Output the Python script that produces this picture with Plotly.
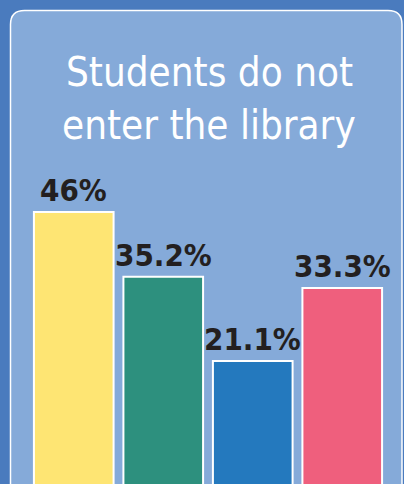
import plotly.graph_objects as go

categories = ["A", "B", "C", "D"]
values = [46, 35.2, 21.1, 33.3]
labels = ["46%", "35.2%", "21.1%", "33.3%"]
colors = ["#fee573", "#2d907e", "#2479be", "#ef5f7d"]
title_lines = ["Students do not", "enter the library"]

W, H = 404, 484
L, R, T, B = 29, 17, 100, 0
pw, ph = W - L - R, H - T - B

def px(x):
    return (x - L) / pw

def py(y):
    return (H - B - y) / ph

FONT = "DejaVu Sans Condensed, Liberation Sans Narrow, sans-serif"

fig = go.Figure()
fig.add_trace(go.Bar(
    x=categories, y=values,
    marker=dict(color=colors, line=dict(color="white", width=2)),
    hoverinfo="skip",
))

for c, v, t in zip(categories, values, labels):
    fig.add_annotation(x=c, y=v, text=t, showarrow=False, yanchor="bottom",
                       yshift=2, font=dict(family=FONT, size=31, color="#231f20", weight="bold"))

# panel
x0, x1, y0, y1, r = 10.5, 402, 10.5, 540, 14
path = (f"M {px(x0)},{py(y1)} L {px(x0)},{py(y0 + r)} Q {px(x0)},{py(y0)} {px(x0 + r)},{py(y0)} "
        f"L {px(x1 - r)},{py(y0)} Q {px(x1)},{py(y0)} {px(x1)},{py(y0 + r)} L {px(x1)},{py(y1)} Z")
fig.add_shape(type="path", path=path, xref="paper", yref="paper", layer="below",
              fillcolor="#85aad9", line=dict(color="white", width=1.5))

for i, (line, cy) in enumerate(zip(title_lines, [71.5, 124.5])):
    fig.add_annotation(x=px(209), y=py(cy), xref="paper", yref="paper", text=line,
                       showarrow=False, xanchor="center", yanchor="middle",
                       font=dict(family=FONT, size=40, color="white"))

fig.update_layout(
    width=W, height=H,
    margin=dict(l=L, r=R, t=T, b=B),
    paper_bgcolor="#4a7bbe", plot_bgcolor="rgba(0,0,0,0)",
    bargap=0.11, showlegend=False,
    xaxis=dict(visible=False, range=[-0.5, 3.5]),
    yaxis=dict(visible=False, range=[0.55, 0.55 + ph / 5.984]),
)
fig.write_html("out.html", config={"displayModeBar": False},
               post_script="document.body.style.margin='0';document.body.style.overflow='hidden';")
